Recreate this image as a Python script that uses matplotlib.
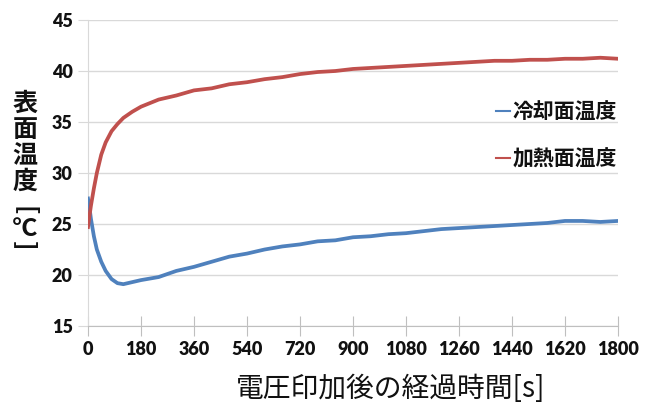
import matplotlib
matplotlib.use("Agg")
import matplotlib.pyplot as plt
from matplotlib.lines import Line2D

plt.rcParams['font.family'] = ['Noto Sans CJK JP', 'DejaVu Sans']

# elapsed time after voltage application [s]
time_s = [0, 5, 10, 20, 30, 45, 60, 80, 100, 120, 150, 180, 240, 300, 360, 420,
          480, 540, 600, 660, 720, 780, 840, 900, 960, 1020, 1080, 1140, 1200,
          1260, 1320, 1380, 1440, 1500, 1560, 1620, 1680, 1740, 1800]
# cooling-side surface temperature [°C]
cool_temp = [27.5, 26.6, 25.5, 23.8, 22.5, 21.3, 20.4, 19.6, 19.2, 19.1, 19.3, 19.5,
             19.8, 20.4, 20.8, 21.3, 21.8, 22.1, 22.5, 22.8, 23.0, 23.3, 23.4, 23.7,
             23.8, 24.0, 24.1, 24.3, 24.5, 24.6, 24.7, 24.8, 24.9, 25.0, 25.1, 25.3,
             25.3, 25.2, 25.3]
# heating-side surface temperature [°C]
heat_temp = [24.7, 25.8, 26.8, 28.5, 30.0, 31.8, 33.0, 34.1, 34.8, 35.4, 36.0, 36.5,
             37.2, 37.6, 38.1, 38.3, 38.7, 38.9, 39.2, 39.4, 39.7, 39.9, 40.0, 40.2,
             40.3, 40.4, 40.5, 40.6, 40.7, 40.8, 40.9, 41.0, 41.0, 41.1, 41.1, 41.2,
             41.2, 41.3, 41.2]

series_names = ['冷却面温度', '加熱面温度']
x_ticks = list(range(0, 1801, 180))
y_ticks = list(range(15, 46, 5))

BLUE = '#4F81BD'
RED = '#C0504D'
GRID = '#D9D9D9'
AXIS = '#BFBFBF'
TEXT = '#111111'

W, H = 654, 403
fig = plt.figure(figsize=(W / 100, H / 100), dpi=100)
ax = fig.add_axes([88 / W, 1 - 326 / H, (618 - 88) / W, (326 - 20) / H])

ax.plot(time_s, cool_temp, color=BLUE, lw=2.7, solid_joinstyle='round', zorder=3)
ax.plot(time_s, heat_temp, color=RED, lw=2.7, solid_joinstyle='round', zorder=3)

ax.set_xlim(0, 1800)
ax.set_ylim(15, 45)
ax.set_xticks(x_ticks)
ax.set_yticks(y_ticks)
ax.yaxis.grid(True, color=GRID, lw=1.0)
ax.set_axisbelow(True)

for side in ['top', 'right']:
    ax.spines[side].set_visible(False)
ax.spines['left'].set_color(GRID)
ax.spines['bottom'].set_color(AXIS)

ax.tick_params(axis='x', direction='inout', length=14, color=AXIS, pad=4)
ax.tick_params(axis='y', direction='out', length=7, color=GRID, pad=4)
for lab in ax.get_xticklabels() + ax.get_yticklabels():
    lab.set_fontfamily(['Lato', 'DejaVu Sans'])
    lab.set_fontweight('heavy')
    lab.set_fontsize(13)
    lab.set_color(TEXT)

# legend
handles = [Line2D([], [], color=BLUE, lw=1.5), Line2D([], [], color=RED, lw=1.5)]
fig.legend(handles, series_names, loc='upper left',
           bbox_to_anchor=(486 / W, 1 - 91 / H), frameon=False,
           handlelength=0.65, handletextpad=0.12, labelspacing=1.25, borderpad=0,
           prop=dict(family=['Noto Sans CJK JP', 'DejaVu Sans'], weight='bold', size=15))
for t in fig.legends[0].get_texts():
    t.set_color(TEXT)

# axis titles
fig.text(391 / W, 1 - 389 / H, '電圧印加後の経過時間[s]', ha='center', va='center',
         fontsize=20, color=TEXT)

ylab_x = 25 / W
for ch, yc in zip('表面温度', [104, 130, 156, 182]):
    fig.text(ylab_x, 1 - yc / H, ch, ha='center', va='center', fontsize=18,
             fontweight='bold', color=TEXT)
fig.text(ylab_x, 1 - 211 / H, '[', ha='center', va='center', fontsize=18,
         fontweight='bold', rotation=-90, color=TEXT)
fig.text(ylab_x, 1 - 229 / H, '°C', ha='center', va='center', fontsize=18,
         fontweight='bold', color=TEXT)
fig.text(ylab_x, 1 - 246 / H, ']', ha='center', va='center', fontsize=18,
         fontweight='bold', rotation=-90, color=TEXT)

fig.savefig('out.png', dpi=100)
